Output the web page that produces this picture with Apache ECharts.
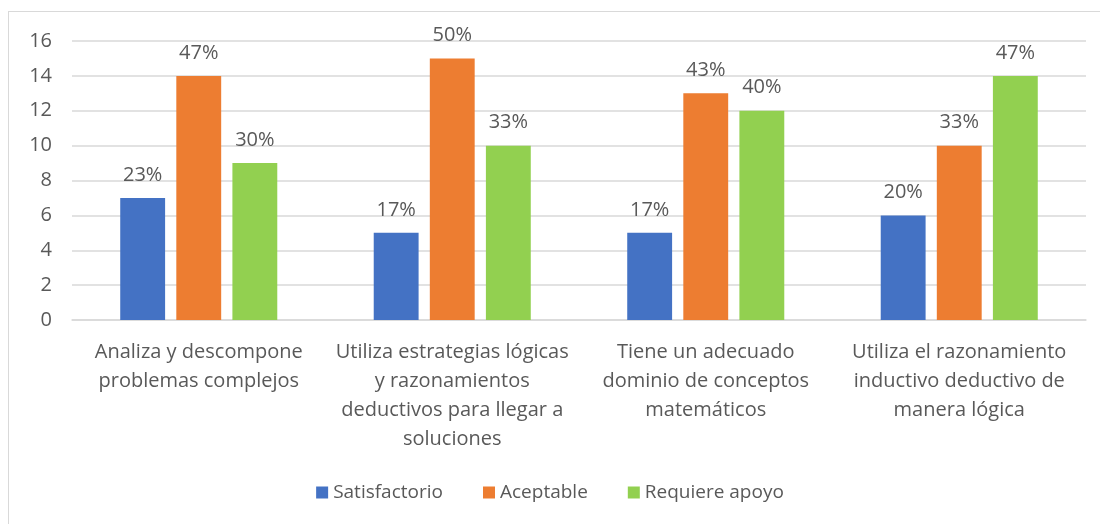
<!DOCTYPE html>
<html>
<head>
<meta charset="utf-8">
<script src="https://cdn.jsdelivr.net/npm/echarts@6/dist/echarts.min.js"></script>
<style>
  html, body { margin: 0; padding: 0; background: #fff; }
  #frame { position: absolute; left: 8px; top: 11px; width: 1100px; height: 530px; border: 1px solid #d9d9d9; box-sizing: border-box; }
  #chart { position: absolute; left: 0; top: 0; width: 1100px; height: 524px; }
</style>
</head>
<body>
<div id="frame"></div>
<div id="chart"></div>
<script>
// categorias (ejes)
var categorias = [
  'Analiza y descompone\nproblemas complejos',
  'Utiliza estrategias lógicas\ny razonamientos\ndeductivos para llegar a\nsoluciones',
  'Tiene un adecuado\ndominio de conceptos\nmatemáticos',
  'Utiliza el razonamiento\ninductivo deductivo de\nmanera lógica'
];
var nombresSeries = ['Satisfactorio', 'Aceptable', 'Requiere apoyo'];
var satisfactorio = [7, 5, 5, 6];
var aceptable = [14, 15, 13, 10];
var requiereApoyo = [9, 10, 12, 14];
var pctSatisfactorio = ['23%', '17%', '17%', '20%'];
var pctAceptable = ['47%', '50%', '43%', '33%'];
var pctRequiereApoyo = ['30%', '33%', '40%', '47%'];
var colores = ['#4472C4', '#ED7D31', '#92D050'];

var fuente = '"Open Sans", "Noto Sans", sans-serif';

function serie(nombre, datos, pct, color) {
  return {
    name: nombre,
    type: 'bar',
    data: datos,
    barWidth: '17.7%',
    barGap: '25%',
    itemStyle: { color: color },
    label: {
      show: true,
      position: 'top',
      distance: 13,
      color: '#595959',
      fontSize: 20,
      fontFamily: fuente,
      formatter: function(p) { return pct[p.dataIndex]; }
    }
  };
}

var myChart = echarts.init(document.getElementById('chart'));
var option = {
  animation: false,
  textStyle: { fontFamily: fuente },
  grid: { left: 72, right: 14, top: 41, bottom: 204, containLabel: false },
  legend: {
    data: nombresSeries,
    bottom: 17,
    left: 'center',
    itemWidth: 12,
    itemHeight: 12,
    itemGap: 40,
    icon: 'rect',
    textStyle: { color: '#595959', fontSize: 19, fontFamily: fuente }
  },
  xAxis: {
    type: 'category',
    data: categorias,
    axisLine: { lineStyle: { color: '#d9d9d9', width: 1.5 } },
    axisTick: { show: false },
    axisLabel: {
      color: '#595959',
      fontSize: 20,
      fontFamily: fuente,
      lineHeight: 29,
      margin: 18,
      interval: 0,
      align: 'center'
    }
  },
  yAxis: {
    type: 'value',
    min: 0,
    max: 16,
    interval: 2,
    axisLine: { show: false },
    axisTick: { show: false },
    splitLine: { lineStyle: { color: '#d9d9d9', width: 1.5 } },
    axisLabel: { color: '#595959', fontSize: 20, fontFamily: fuente, margin: 20 }
  },
  series: [
    serie(nombresSeries[0], satisfactorio, pctSatisfactorio, colores[0]),
    serie(nombresSeries[1], aceptable, pctAceptable, colores[1]),
    serie(nombresSeries[2], requiereApoyo, pctRequiereApoyo, colores[2])
  ]
};
myChart.setOption(option);
</script>
</body>
</html>
